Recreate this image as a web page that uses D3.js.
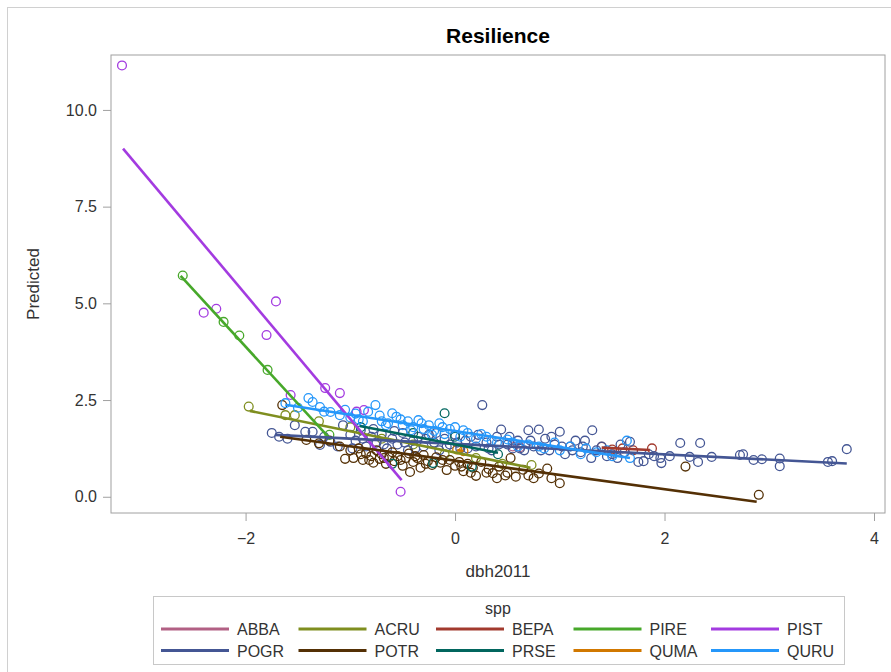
<!DOCTYPE html>
<html>
<head>
<meta charset="utf-8">
<script src="https://d3js.org/d3.v7.min.js"></script>
<style>
body { margin: 0; background: #fff; }
text { font-family: "Liberation Sans", Arial, sans-serif; fill: #333; }
</style>
</head>
<body>
<div id="chart"></div>
<script>

// species (legend order) and colours
const species = ["ABBA", "ACRU", "BEPA", "PIRE", "PIST", "POGR", "POTR", "PRSE", "QUMA", "QURU"];
const colors  = ["#B26084", "#7F8E1F", "#A23A2E", "#47A82A", "#A33BE0", "#445694", "#543005", "#01665E", "#D17800", "#2597FA"];

const xTicks = [-2, 0, 2, 4];
const yTicks = [0, 2.5, 5, 7.5, 10];

const ptsABBA = [[0.55, 1.3], [0.62, 1.28]];
const ptsACRU = [[-1.97, 2.33], [-1.62, 2.11], [-1.53, 2.11], [-1.3, 1.95], [-1.0, 1.8], [-0.7, 1.5],
  [-0.4, 1.35], [-0.1, 1.1], [0.2, 1.0], [0.45, 0.85], [0.73, 0.82]];
const ptsBEPA = [[1.4, 1.29], [1.5, 1.22], [1.6, 1.25], [1.7, 1.2], [1.88, 1.25]];
const ptsPIRE = [[-2.6, 5.72], [-2.21, 4.52], [-2.06, 4.17], [-1.79, 3.28], [-1.2, 1.6]];
const ptsPIST = [[-3.18, 11.15], [-2.4, 4.76], [-2.28, 4.86], [-1.8, 4.18], [-1.71, 5.05], [-1.57, 2.63],
  [-1.24, 2.81], [-1.1, 2.68], [-0.94, 2.2], [-0.87, 2.24], [-0.52, 0.13]];
const ptsPOGR = [[-1.75, 1.65], [-1.68, 1.55], [-1.6, 1.5], [-1.53, 1.85], [-1.43, 1.68], [-1.36, 1.68],
  [-1.29, 1.34], [-1.25, 1.55], [-1.19, 1.42], [-1.12, 1.3], [-1.07, 1.85], [-1.0, 1.6], [-0.98, 1.25],
  [-0.95, 1.45], [-0.9, 1.72], [-0.88, 1.5], [-0.85, 1.3], [-0.8, 1.55], [-0.78, 1.75], [-0.75, 1.4],
  [-0.7, 1.62], [-0.68, 1.35], [-0.65, 1.25], [-0.6, 1.5], [-0.58, 1.7], [-0.55, 1.35], [-0.5, 1.65],
  [-0.48, 1.4], [-0.45, 1.2], [-0.4, 1.45], [-0.38, 1.25], [-0.35, 1.55], [-0.3, 1.3], [-0.28, 1.5],
  [-0.25, 1.6], [-0.2, 1.4], [-0.18, 1.65], [-0.15, 1.2], [-0.1, 1.5], [-0.08, 1.3], [-0.05, 1.35],
  [0.0, 1.6], [0.02, 1.4], [0.05, 1.25], [0.1, 1.45], [0.12, 1.25], [0.15, 1.55], [0.2, 1.3],
  [0.22, 1.6], [0.26, 2.37], [0.3, 1.4], [0.32, 1.25], [0.35, 1.2], [0.4, 1.55], [0.42, 1.35],
  [0.44, 1.74], [0.5, 1.35], [0.52, 1.55], [0.55, 1.25], [0.6, 1.45], [0.62, 1.25], [0.66, 1.2],
  [0.7, 1.72], [0.72, 1.45], [0.75, 1.3], [0.8, 1.74], [0.82, 1.2], [0.86, 1.5], [0.9, 1.2],
  [0.92, 1.55], [0.95, 1.35], [1.0, 1.68], [1.02, 1.3], [1.05, 1.1], [1.1, 1.3], [1.12, 1.2],
  [1.15, 1.45], [1.2, 1.15], [1.22, 1.3], [1.24, 1.45], [1.31, 1.72], [1.3, 1.0], [1.35, 1.2],
  [1.4, 1.3], [1.45, 1.05], [1.5, 1.1], [1.55, 1.0], [1.58, 1.35], [1.62, 1.15], [1.67, 1.42],
  [1.75, 0.9], [1.8, 0.92], [1.85, 1.1], [1.9, 1.05], [1.96, 1.0], [1.97, 0.87], [2.05, 1.05],
  [2.15, 1.39], [2.24, 1.03], [2.32, 0.9], [2.34, 1.39], [2.45, 1.03], [2.72, 1.08], [2.75, 1.1],
  [2.85, 0.95], [2.93, 0.97], [3.1, 0.99], [3.1, 0.79], [3.56, 0.9], [3.6, 0.92], [3.74, 1.23]];
const ptsPOTR = [[-1.65, 2.37], [-1.42, 1.47], [-1.3, 1.38], [-1.2, 1.45], [-1.1, 1.3], [-1.05, 0.98],
  [-1.0, 1.2], [-0.97, 1.0], [-0.92, 1.25], [-0.9, 1.1], [-0.88, 0.95], [-0.85, 1.12], [-0.82, 0.95],
  [-0.8, 1.05], [-0.78, 0.88], [-0.75, 1.2], [-0.72, 0.98], [-0.7, 1.1], [-0.68, 1.0], [-0.66, 0.85],
  [-0.63, 1.02], [-0.6, 1.15], [-0.58, 0.92], [-0.55, 1.05], [-0.52, 0.95], [-0.5, 0.8], [-0.47, 1.0],
  [-0.43, 0.64], [-0.44, 1.12], [-0.4, 0.9], [-0.38, 1.05], [-0.36, 1.0], [-0.33, 0.75], [-0.3, 1.08],
  [-0.28, 0.85], [-0.26, 0.92], [-0.22, 0.82], [-0.18, 1.02], [-0.14, 0.88], [-0.12, 0.95],
  [-0.08, 0.69], [-0.05, 0.95], [0.0, 0.8], [0.04, 0.9], [0.06, 0.78], [0.08, 0.66], [0.12, 0.85],
  [0.15, 0.62], [0.17, 0.75], [0.2, 0.54], [0.25, 0.9], [0.3, 0.62], [0.32, 0.72], [0.36, 0.61],
  [0.4, 0.48], [0.42, 0.78], [0.48, 0.55], [0.5, 0.62], [0.53, 1.0], [0.58, 0.52], [0.65, 0.7],
  [0.7, 0.55], [0.75, 0.48], [0.8, 0.6], [0.88, 0.73], [0.92, 0.48], [1.0, 0.35], [2.2, 0.78], [2.9, 0.05]];
const ptsPRSE = [[-0.9, 1.8], [-0.6, 0.85], [-0.4, 1.65], [-0.21, 0.87], [-0.1, 2.16], [0.0, 1.55],
  [0.16, 0.78], [0.41, 1.1]];
const ptsQUMA = [[0.02, 1.22], [0.08, 1.18]];
const ptsQURU = [[-1.62, 2.42], [-1.5, 2.3], [-1.4, 2.55], [-1.36, 2.45], [-1.29, 2.32], [-1.25, 2.2],
  [-1.19, 2.19], [-1.1, 2.11], [-1.05, 2.25], [-1.0, 2.05], [-0.95, 2.15], [-0.92, 2.0], [-0.88, 1.95],
  [-0.83, 2.2], [-0.76, 2.37], [-0.72, 2.1], [-0.7, 1.95], [-0.66, 1.85], [-0.64, 1.9], [-0.6, 2.16],
  [-0.56, 2.07], [-0.52, 2.0], [-0.5, 1.85], [-0.45, 1.95], [-0.42, 1.72], [-0.4, 1.8], [-0.35, 1.98],
  [-0.32, 1.9], [-0.3, 1.75], [-0.25, 1.85], [-0.22, 1.6], [-0.2, 1.7], [-0.15, 1.9], [-0.12, 1.8],
  [-0.1, 1.62], [-0.05, 1.75], [0.0, 1.8], [0.05, 1.55], [0.08, 1.72], [0.12, 1.65], [0.2, 1.5],
  [0.25, 1.62], [0.3, 1.55], [0.35, 1.45], [0.4, 1.4], [0.5, 1.48], [0.55, 1.4], [0.6, 1.3],
  [0.7, 1.35], [0.8, 1.3], [0.85, 1.25], [0.95, 1.4], [1.0, 1.2], [1.1, 1.3], [1.2, 1.1],
  [1.25, 1.25], [1.35, 1.15], [1.45, 1.2], [1.5, 1.05], [1.64, 1.45], [1.67, 1.0]];

// fitted regression lines, [x0, y0, x1, y1]
const fitABBA = [0.55, 1.3, 0.62, 1.28];
const fitACRU = [-1.96, 2.22, 0.72, 0.75];
const fitBEPA = [1.4, 1.27, 1.86, 1.21];
const fitPIRE = [-2.62, 5.71, -1.19, 1.49];
const fitPIST = [-3.17, 9.0, -0.51, 0.43];
const fitPOGR = [-1.72, 1.6, 3.74, 0.86];
const fitPOTR = [-1.67, 1.55, 2.88, -0.13];
const fitPRSE = [-0.91, 1.83, 0.41, 1.14];
const fitQUMA = [0.02, 1.21, 0.08, 1.18];
const fitQURU = [-1.62, 2.38, 1.67, 1.0];

const points = [ptsABBA, ptsACRU, ptsBEPA, ptsPIRE, ptsPIST, ptsPOGR, ptsPOTR, ptsPRSE, ptsQUMA, ptsQURU];
const fits = [fitABBA, fitACRU, fitBEPA, fitPIRE, fitPIST, fitPOGR, fitPOTR, fitPRSE, fitQUMA, fitQURU];

// layout
const W = 891, H = 672;
const plot = {left: 111, right: 885, top: 55, bottom: 513};

const svg = d3.select("#chart").append("svg")
  .attr("width", W).attr("height", H);

// outer frame
svg.append("rect")
  .attr("x", 7.5).attr("y", 7.5)
  .attr("width", W + 20).attr("height", H + 20)
  .attr("fill", "none").attr("stroke", "#d0d0d0");

const x = d3.scaleLinear().domain([-3.285, 4.105]).range([plot.left, plot.right]);
const y = d3.scaleLinear().domain([-0.42, 11.42]).range([plot.bottom, plot.top]);

// title
svg.append("text")
  .attr("x", (plot.left + plot.right) / 2).attr("y", 43)
  .attr("text-anchor", "middle")
  .style("font-size", "21px").style("font-weight", "bold").style("fill", "#000")
  .text("Resilience");

// axes
const xAxis = svg.append("g")
  .attr("transform", `translate(0,${plot.bottom})`)
  .call(d3.axisBottom(x).tickValues(xTicks).tickSize(8).tickPadding(12).tickFormat(d3.format("d")));
const yAxis = svg.append("g")
  .attr("transform", `translate(${plot.left},0)`)
  .call(d3.axisLeft(y).tickValues(yTicks).tickSize(8).tickPadding(6).tickFormat(d3.format(".1f")));
[xAxis, yAxis].forEach(g => {
  g.select(".domain").remove();
  g.selectAll("line").attr("stroke", "#a0a0a0");
  g.selectAll("text").style("font-size", "16px").style("fill", "#333");
});

// plot frame
svg.append("rect")
  .attr("x", plot.left).attr("y", plot.top)
  .attr("width", plot.right - plot.left).attr("height", plot.bottom - plot.top)
  .attr("fill", "none").attr("stroke", "#a0a0a0");

// axis labels
svg.append("text")
  .attr("x", (plot.left + plot.right) / 2).attr("y", 577)
  .attr("text-anchor", "middle").style("font-size", "17px")
  .text("dbh2011");
svg.append("text")
  .attr("transform", `translate(39,${(plot.top + plot.bottom) / 2}) rotate(-90)`)
  .attr("text-anchor", "middle").style("font-size", "17px")
  .text("Predicted");

const clip = svg.append("clipPath").attr("id", "clip")
  .append("rect").attr("x", plot.left).attr("y", plot.top)
  .attr("width", plot.right - plot.left).attr("height", plot.bottom - plot.top);
const area = svg.append("g").attr("clip-path", "url(#clip)");

// scatter
points.forEach((pts, i) => {
  area.append("g").selectAll("circle")
    .data(pts)
    .join("circle")
      .attr("cx", d => x(d[0]))
      .attr("cy", d => y(d[1]))
      .attr("r", 4.4)
      .attr("fill", "none")
      .attr("stroke", colors[i])
      .attr("stroke-width", 1.3);
});

// regression lines
fits.forEach((f, i) => {
  area.append("line")
    .attr("x1", x(f[0])).attr("y1", y(f[1]))
    .attr("x2", x(f[2])).attr("y2", y(f[3]))
    .attr("stroke", colors[i])
    .attr("stroke-width", 2.6);
});

// legend
const lg = svg.append("g");
lg.append("rect")
  .attr("x", 153.5).attr("y", 596.5).attr("width", 691).attr("height", 68)
  .attr("fill", "none").attr("stroke", "#c8c8c8");
lg.append("text")
  .attr("x", 498).attr("y", 614).attr("text-anchor", "middle")
  .style("font-size", "16px").text("spp");
species.forEach((s, i) => {
  const col = i % 5, row = Math.floor(i / 5);
  const x0 = 161 + col * 137.5, yy = 629 + row * 21.5;
  lg.append("line")
    .attr("x1", x0).attr("x2", x0 + 68)
    .attr("y1", yy).attr("y2", yy)
    .attr("stroke", colors[i]).attr("stroke-width", 3);
  lg.append("text")
    .attr("x", x0 + 76).attr("y", yy + 6)
    .style("font-size", "16px").text(s);
});

</script>
</body>
</html>
